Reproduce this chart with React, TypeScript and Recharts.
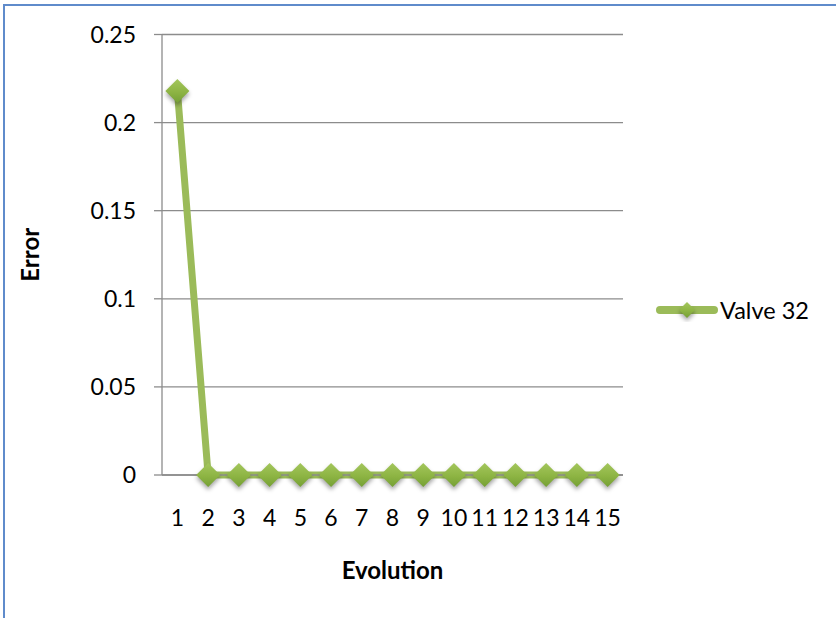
import React from "react";
import {
  CartesianGrid,
  Label,
  Line,
  LineChart,
  XAxis,
  YAxis,
} from "recharts";

const evolutions = ["1", "2", "3", "4", "5", "6", "7", "8", "9", "10", "11", "12", "13", "14", "15"];
const valve32Error = [0.218, 0, 0, 0, 0, 0, 0, 0, 0, 0, 0, 0, 0, 0, 0];
const errorTicks = [0, 0.05, 0.1, 0.15, 0.2, 0.25];

const FONT = "Lato, 'Open Sans', sans-serif";
const GRID = "#8c8c8c";
const LINE = "#9bbb59";

const data = evolutions.map((evolution, i) => ({
  evolution,
  valve32: valve32Error[i],
}));

function Diamond({ cx, cy, r, id }: { cx: number; cy: number; r: number; id: string }) {
  return (
    <g>
      <defs>
        <linearGradient id={id} x1="0" y1="0" x2="0" y2="1">
          <stop offset="0%" stopColor="#a3c65c" />
          <stop offset="55%" stopColor="#8db443" />
          <stop offset="100%" stopColor="#75a035" />
        </linearGradient>
      </defs>
      <path
        d={`M${cx},${cy - r} L${cx + r},${cy} L${cx},${cy + r} L${cx - r},${cy} Z`}
        fill={`url(#${id})`}
        style={{ filter: "drop-shadow(0px 3px 2px rgba(0,0,0,0.35))" }}
      />
    </g>
  );
}

const renderDot = (props: any) => {
  const { cx, cy, index } = props;
  return <Diamond key={`dot-${index}`} cx={cx} cy={cy} r={12} id={`dg-${index}`} />;
};

function ValveLegend() {
  return (
    <div style={{ display: "flex", alignItems: "center", fontFamily: FONT, fontSize: 23.5, color: "#000" }}>
      <svg width={62} height={24}>
        <line x1={4} y1={12} x2={58} y2={12} stroke={LINE} strokeWidth={8} strokeLinecap="round" />
        <Diamond cx={31} cy={12} r={8} id="dg-legend" />
      </svg>
      <span style={{ marginLeft: 2 }}>Valve 32</span>
    </div>
  );
}

export default function App() {
  return (
    <div style={{ position: "absolute", left: 0, top: 0, width: 836, height: 618, overflow: "hidden", background: "#fff" }}>
      <div
        style={{
          position: "absolute",
          left: 3,
          top: 4,
          width: 900,
          height: 700,
          borderTop: "2px solid #5f8bcb",
          borderLeft: "2px solid #5f8bcb",
        }}
      />
      <div style={{ position: "absolute", left: 0, top: 0 }}>
        <LineChart
          width={836}
          height={618}
          data={data}
          margin={{ top: 34.5, right: 213, bottom: 0, left: 0 }}
        >
          <CartesianGrid horizontal vertical={false} stroke={GRID} strokeWidth={1.3} />
          <XAxis
            dataKey="evolution"
            height={143}
            padding={{ left: 15.4, right: 15.4 }}
            axisLine={{ stroke: GRID, strokeWidth: 1.3 }}
            tickLine={false}
            tickSize={8}
            tickMargin={27}
            interval={0}
            tick={{ fontFamily: FONT, fontSize: 23, fill: "#000" }}
          >
            <Label
              content={({ viewBox }: any) => (
                <text
                  x={viewBox.x + viewBox.width / 2}
                  y={579}
                  textAnchor="middle"
                  fontFamily={FONT}
                  fontSize={24}
                  fontWeight="bold"
                  fill="#000"
                >
                  Evolution
                </text>
              )}
            />
          </XAxis>
          <YAxis
            width={162}
            domain={[0, 0.25]}
            ticks={errorTicks}
            axisLine={{ stroke: GRID, strokeWidth: 1.3 }}
            tickLine={{ stroke: GRID, strokeWidth: 1.3 }}
            tickSize={8}
            tickMargin={18}
            tick={{ fontFamily: FONT, fontSize: 23, fill: "#000" }}
          >
            <Label
              content={({ viewBox }: any) => {
                const cy = viewBox.y + viewBox.height / 2;
                return (
                  <text
                    x={39}
                    y={cy}
                    transform={`rotate(-90, 39, ${cy})`}
                    textAnchor="middle"
                    fontFamily={FONT}
                    fontSize={24}
                    fontWeight="bold"
                    fill="#000"
                  >
                    Error
                  </text>
                );
              }}
            />
          </YAxis>
          <Line
            type="linear"
            dataKey="valve32"
            name="Valve 32"
            stroke={LINE}
            strokeWidth={7}
            dot={renderDot}
            activeDot={false}
            isAnimationActive={false}
          />
        </LineChart>
      </div>
      <div style={{ position: "absolute", left: 656, top: 296 }}>
        <ValveLegend />
      </div>
    </div>
  );
}
